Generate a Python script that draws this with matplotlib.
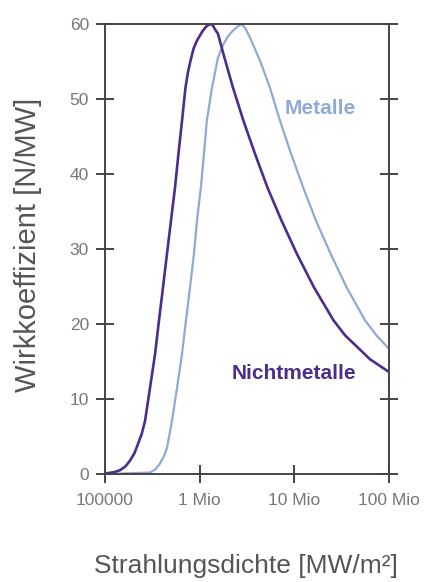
import matplotlib
matplotlib.use("Agg")
import matplotlib.pyplot as plt

# Strahlungsdichte [MW/m2] und Wirkkoeffizient [N/MW]
nm_x = [1.0e5, 1.05e5, 1.25e5, 1.44e5, 1.64e5, 1.84e5, 2.05e5, 2.23e5,
        2.45e5, 2.65e5, 2.99e5, 3.38e5, 3.72e5, 4.10e5, 4.52e5, 4.98e5,
        5.49e5, 5.97e5, 6.51e5, 7.08e5, 7.53e5, 8.00e5, 8.61e5, 9.37e5,
        1.08e6, 1.18e6, 1.29e6, 1.38e6, 1.45e6, 1.56e6, 1.81e6, 2.25e6,
        2.90e6, 3.84e6, 5.20e6, 7.31e6, 1.06e7, 1.61e7, 2.59e7, 3.43e7,
        6.30e7, 1.0e8]
nm_y = [0.0, 0.1, 0.25, 0.5, 1.0, 1.8, 2.8, 4.0,
        5.4, 7.1, 11.5, 16.0, 20.5, 24.9, 29.4, 33.8,
        38.2, 42.7, 47.1, 51.5, 53.6, 55.1, 56.7, 57.8,
        59.1, 59.7, 60.0, 59.8, 59.3, 58.7, 55.7, 51.5,
        47.1, 42.7, 38.2, 33.8, 29.4, 24.9, 20.5, 18.5,
        15.3, 13.6]

met_x = [1.0e5, 1.84e5, 2.99e5, 3.40e5, 3.81e5, 4.2e5, 4.52e5, 5.10e5,
         5.77e5, 6.51e5, 7.17e5, 7.91e5, 8.71e5, 9.37e5, 1.03e6, 1.11e6,
         1.19e6, 1.35e6, 1.56e6, 1.75e6, 1.95e6, 2.2e6, 2.48e6, 2.73e6,
         3.01e6, 3.40e6, 4.34e6, 5.53e6, 7.06e6, 9.23e6, 1.24e7, 1.69e7,
         2.41e7, 3.56e7, 5.57e7, 7.46e7, 1.0e8]
met_y = [0.0, 0.1, 0.2, 0.6, 1.4, 2.4, 3.5, 7.1,
         11.5, 16.0, 20.5, 24.9, 29.4, 33.8, 38.2, 42.7,
         47.1, 51.5, 55.5, 57.1, 58.2, 59.0, 59.6, 60.0,
         59.5, 58.2, 55.1, 51.5, 47.1, 42.7, 38.2, 33.8,
         29.4, 24.9, 20.5, 18.4, 16.7]

x_ticks = [1e5, 1e6, 1e7, 1e8]
x_labels = ["100000", "1 Mio", "10 Mio", "100 Mio"]
y_ticks = [0, 10, 20, 30, 40, 50, 60]

col_nm = "#4b2d8c"
col_met = "#8fa9d8"
grey = "#555555"

plt.rcParams['font.family'] = ['Liberation Sans', 'DejaVu Sans']

fig = plt.figure(figsize=(4.42, 5.82), dpi=100)
ax = fig.add_axes([105 / 442, 1 - 474 / 582, 284 / 442, 450 / 582])

ax.plot(met_x, met_y, color=col_met, lw=1.6, solid_joinstyle='round')
ax.plot(nm_x, nm_y, color=col_nm, lw=1.9, solid_joinstyle='round')

ax.set_xscale('log')
ax.set_xlim(1e5, 1e8)
ax.set_ylim(0, 60)
ax.set_xticks(x_ticks)
ax.set_xticklabels(x_labels)
ax.minorticks_off()
ax.set_yticks(y_ticks)

for s in ax.spines.values():
    s.set_color("#444444")
    s.set_linewidth(1.4)

ax.tick_params(axis='both', direction='inout', length=13, width=1.4,
               color="#444444", labelcolor="#777777", labelsize=12.5)
ax.tick_params(axis='y', right=True, labelright=False, pad=5)
ax.tick_params(axis='x', pad=7)

ax.text(7.96e6, 48.7, "Metalle", color=col_met, fontsize=15,
        fontweight='bold', va='center', ha='left')
ax.text(2.19e6, 13.4, "Nichtmetalle", color=col_nm, fontsize=15,
        fontweight='bold', va='center', ha='left')

fig.text(28 / 442, 1 - 245 / 582, "Wirkkoeffizient [N/MW]", color=grey,
         fontsize=21, rotation=90, ha='center', va='center')
fig.text(246 / 442, 1 - 566 / 582, "Strahlungsdichte [MW/m²]", color=grey,
         fontsize=19, ha='center', va='center')

fig.savefig("out.png", dpi=100)
